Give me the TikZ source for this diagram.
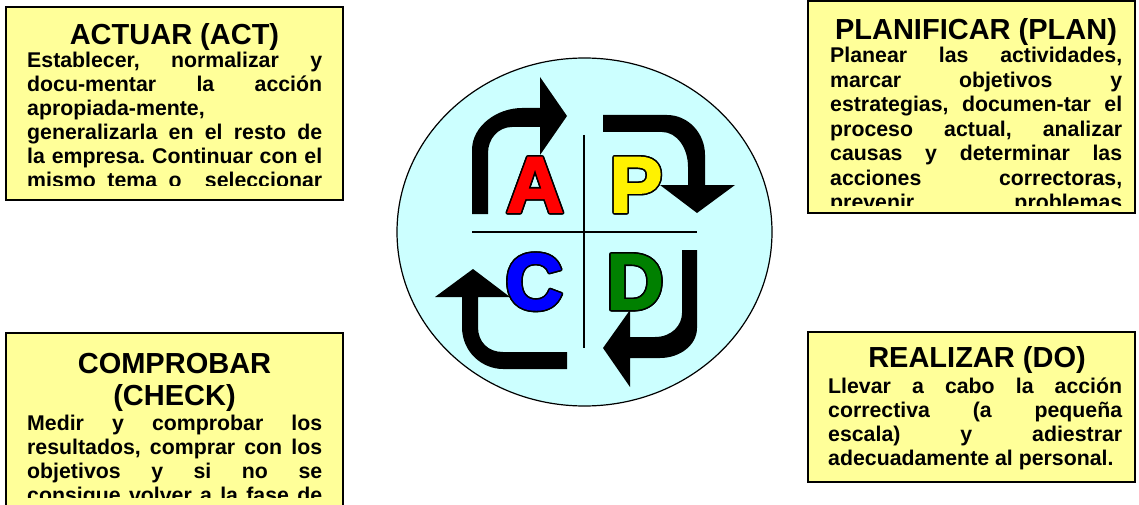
\documentclass[tikz,border=0pt]{standalone}
\usepackage{fontspec}
\setmainfont{Liberation Sans}
\newfontfamily\lettfont{Liberation Sans Bold}[FakeBold=2.5]

\definecolor{boxyellow}{HTML}{FFFF99}
\definecolor{disccyan}{HTML}{CCFFFF}
\definecolor{dgreen}{HTML}{008000}

\newcommand\jl[1]{\makebox[\linewidth][s]{#1}}
\newcommand\bdy{\fontsize{21.3}{24}\selectfont\frenchspacing}

\begin{document}
\begin{tikzpicture}[x=1pt,y=-1pt,
  pbox/.style={draw=black,line width=1.6pt,fill=boxyellow},
  ttl/.style={anchor=base,inner sep=0pt,align=center,
    font=\bfseries\fontsize{29}{32}\selectfont},
  txt/.style={anchor=base west,inner sep=0pt,font=\bfseries},
  lett/.style={anchor=base,inner sep=0pt,font=\lettfont\fontsize{79}{79}\selectfont}]
\useasboundingbox (0,0) rectangle (1139,505);

% the four boxes
\draw[pbox] (6,7) rectangle (343,200);
\draw[pbox] (808,1) rectangle (1135,213);
\draw[pbox] (6,333) rectangle (343,520);
\draw[pbox] (808,332) rectangle (1135,482);

\begin{scope}
  \clip (8,9) rectangle (341,185.5);
  \node[ttl] (actT) at (174.5,45) {ACTUAR (ACT)};
  \node[txt] (actB) at (27,68) {\parbox[t]{295pt}{\bdy
    \jl{Establecer, normalizar y}\\
    \jl{docu-mentar la acción}\\
    apropiada-mente,\\
    \jl{generalizarla en el resto de}\\
    \jl{la empresa. Continuar con el}\\
    \jl{mismo tema o\ \ seleccionar}}};
\end{scope}

\begin{scope}
  \clip (810,3) rectangle (1133,205);
  \node[ttl] (planT) at (976,40) {PLANIFICAR (PLAN)};
  \node[txt] (planB) at (830,63) {\parbox[t]{292pt}{\fontsize{21.3}{24.5}\selectfont\frenchspacing
    \jl{Planear las actividades,}\\
    \jl{marcar objetivos y}\\
    \jl{estrategias, documen-tar el}\\
    \jl{proceso actual, analizar}\\
    \jl{causas y determinar las}\\
    \jl{acciones correctoras,}\\
    \jl{prevenir problemas}}};
\end{scope}

\begin{scope}
  \clip (8,335) rectangle (341,497);
  \node[ttl] (checkT) at (174.5,405) {COMPROBAR\\(CHECK)};
  \node[txt] (checkB) at (27,430) {\parbox[t]{295pt}{\bdy
    \jl{Medir y comprobar los}\\
    \jl{resultados, comprar con los}\\
    \jl{objetivos y si no se}\\
    \jl{consigue volver a la fase de}}};
\end{scope}

\node[ttl] (doT) at (977,367) {REALIZAR (DO)};
\node[txt] (doB) at (828,393.3) {\parbox[t]{294pt}{\bdy
  \jl{Llevar a cabo la acción}\\
  \jl{correctiva (a pequeña}\\
  \jl{escala) y adiestrar}\\
  adecuadamente al personal.}};

% disc with cross
\draw[fill=disccyan,line width=1.2pt] (584.5,232) ellipse [x radius=187.5,y radius=174];
\draw[line width=1.1pt] (472,232) -- (697,232);
\draw[line width=1.1pt] (584,135) -- (584,348);

% arrows
\fill (472,214) -- (472,150) .. controls (472,126) and (497,108) .. (522,108)
  -- (540,108) -- (540,77) -- (567,116) -- (540,155) -- (540,127) -- (512,127)
  .. controls (498,127) and (488,139) .. (488,153) -- (488,214) -- cycle;
\fill (603,115) -- (667,115) .. controls (688,115) and (705,133) .. (705,155)
  -- (705,185) -- (735,185) -- (697,213) -- (660,185) -- (688,185) -- (688,167)
  .. controls (688,148) and (677,132) .. (662,132) -- (603,132) -- cycle;
\fill (697,250) -- (697,328) .. controls (697,345) and (680,358) .. (660,358)
  -- (630,358) -- (630,387) -- (603,348) -- (630,310) -- (630,337) -- (655,337)
  .. controls (672,337) and (682,325) .. (682,313) -- (682,250) -- cycle;
\fill (567,352) -- (503,352) .. controls (488,352) and (478,342) .. (478,327)
  -- (478,297) -- (510,297) -- (473,269) -- (435,297) -- (462,297) -- (462,327)
  .. controls (462,352) and (482,369) .. (503,369) -- (567,369) -- cycle;

% outlined letters
\foreach \l/\c/\x/\y in {A/red/535/212,P/yellow/636/212,C/blue/534/309,D/dgreen/635/309}{
  \foreach \a in {0,30,...,330}
    \node[lett,text=black,shift={(\a:1.6)}] (\l\a) at (\x,\y) {\l};
  \node[lett,text=\c] (\l) at (\x,\y) {\l};
}
\end{tikzpicture}
\end{document}
